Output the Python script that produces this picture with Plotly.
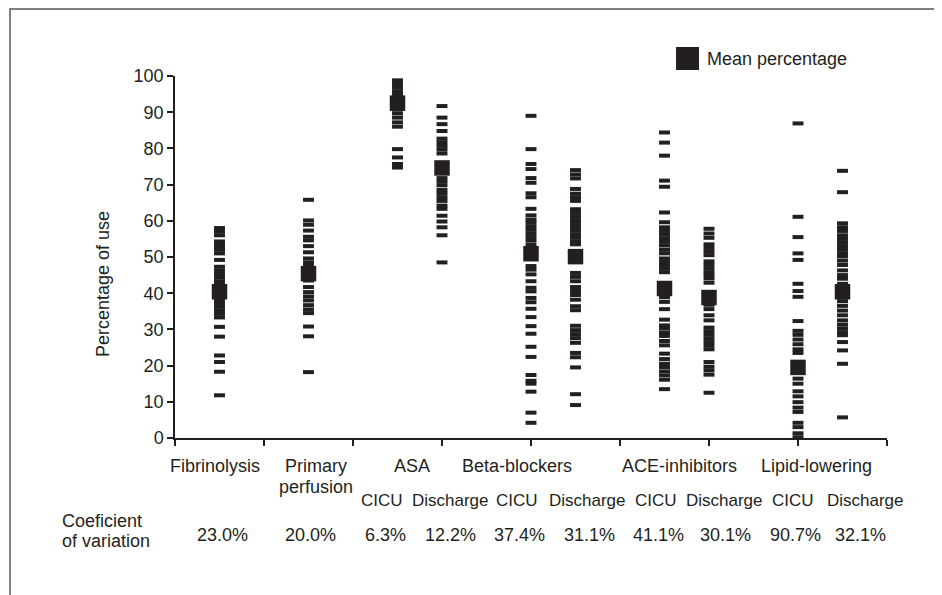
import plotly.graph_objects as go

# ---------------- data ----------------
groups = ["Fibrinolysis", "Primary<br>perfusion", "ASA", "Beta-blockers", "ACE-inhibitors", "Lipid-lowering"]
sub_labels = ["CICU", "Discharge", "CICU", "Discharge", "CICU", "Discharge", "CICU", "Discharge"]
cv_labels = ["23.0%", "20.0%", "6.3%", "12.2%", "37.4%", "31.1%", "41.1%", "30.1%", "90.7%", "32.1%"]

fibrinolysis = [58, 57, 56, 54.3, 53.5, 52.7, 52, 51, 49.2, 47.3, 46.3, 45.3, 44.3, 43.3, 42.5,
                38.3, 37.3, 36.3, 35.3, 34.3, 33.3, 30.7, 28, 22.8, 21, 18.3, 11.8]
primary_perfusion = [65.8, 60.1, 58.9, 57.3, 55.6, 54.6, 53.0, 51.3, 49.6, 48.5, 47.5, 44.5, 43.5,
                     41.7, 40.3, 39.1, 38.0, 36.7, 35.5, 34.5, 30.8, 28.1, 18.2]
asa_cicu = [98.8, 97.8, 96.8, 95.8, 94.8, 90.8, 89.7, 88.5, 87.2, 86.0, 79.8, 77.5, 75.7, 74.7]
asa_discharge = [91.7, 88.5, 86.7, 84.8, 82.7, 81.7, 80.7, 79.7, 78.6, 71.8, 70.8, 69.8, 68.5, 67.5,
                 66.5, 65.5, 64.2, 63.3, 61.4, 59.8, 58.2, 56.0, 48.5]
bb_cicu = [89.0, 79.8, 75.7, 74.3, 71.8, 70.5, 67.6, 66.5, 63.3, 61.5, 60.3, 59.5, 58.5, 57.5, 56.5,
           55.5, 54.5, 53.3, 47.5, 46.5, 45.2, 43.3, 41.5, 40.5, 38.7, 37.5, 35.7, 33.4, 30.9, 28.8,
           25.2, 22.4, 17.4, 15.8, 15.0, 12.8, 7.0, 4.2]
bb_discharge = [74.0, 72.8, 71.7, 68.8, 67.5, 66.5, 65.5, 63.2, 62.2, 61.2, 60.2, 59.3, 58.3, 57.3,
                56.3, 55.3, 54.3, 53.5, 45.6, 44.5, 43.3, 41.7, 40.6, 39.5, 38.2, 36.4, 35.3, 31.0,
                29.8, 28.7, 27.6, 26.3, 23.5, 22.3, 19.5, 12.1, 9.1]
ace_cicu = [84.4, 81.6, 78.0, 71.1, 69.4, 62.3, 59.6, 58.2, 57.2, 56.2, 55.2, 54.2, 53.2, 52.0, 51.0,
            49.6, 48.6, 47.6, 46.8, 45.8, 38.9, 37.6, 35.6, 32.7, 31.1, 30.2, 29.0, 28.2, 26.8, 25.6,
            23.3, 21.8, 20.5, 19.6, 18.4, 17.3, 16.1, 13.5]
ace_discharge = [57.8, 56.5, 55.3, 53.5, 52.5, 51.5, 50.5, 48.8, 47.8, 46.8, 45.8, 45.0, 44.1, 42.9,
                 36.8, 35.6, 33.9, 32.5, 30.5, 29.5, 28.5, 27.5, 26.5, 25.5, 24.5, 21.0, 19.7, 18.7,
                 17.5, 12.5]
lipid_cicu = [86.9, 61.1, 55.5, 51.0, 49.2, 42.6, 40.6, 39.0, 32.3, 29.6, 28.5, 27.2, 25.9, 24.5,
              23.5, 16.4, 15.0, 12.9, 11.5, 9.9, 8.4, 7.2, 4.2, 3.0, 1.3, 0.2]
lipid_discharge = [73.8, 67.9, 59.3, 58.2, 57.2, 56.0, 55.0, 54.0, 53.0, 52.0, 51.0, 50.2, 49.0, 47.8,
                   46.3, 45.0, 44.0, 42.6, 37.8, 36.5, 35.2, 33.9, 32.5, 31.3, 30.2, 29.2, 28.4, 26.5,
                   24.2, 20.5, 5.7]

series = [fibrinolysis, primary_perfusion, asa_cicu, asa_discharge, bb_cicu, bb_discharge,
          ace_cicu, ace_discharge, lipid_cicu, lipid_discharge]
means = [40.4, 45.4, 92.5, 74.6, 50.9, 50.1, 41.3, 38.8, 19.5, 40.4]

# ---------------- layout positions (axis units) ----------------
col_x = [0.5, 1.5, 2.5, 3.0, 4.0, 4.5, 5.5, 6.0, 7.0, 7.5]
group_x = [0.45, 1.58, 2.66, 3.84, 5.67, 7.21]
sub_x = [2.33, 3.10, 3.84, 4.64, 5.40, 6.17, 6.94, 7.76]
cv_x = [0.53, 1.52, 2.36, 3.09, 3.87, 4.66, 5.43, 6.18, 6.97, 7.70]

INK = "#231f20"
FONT = "Liberation Sans, Arial, Helvetica, sans-serif"
FS = 18

dash_x, dash_y = [], []
for xpos, vals in zip(col_x, series):
    dash_x += [xpos] * len(vals)
    dash_y += vals

fig = go.Figure()
fig.add_trace(go.Scatter(
    x=dash_x, y=dash_y, mode="markers", showlegend=False, cliponaxis=False,
    marker=dict(symbol="line-ew", size=7.8, line=dict(color=INK, width=4)),
    hoverinfo="y"))
fig.add_trace(go.Scatter(
    x=col_x, y=means, mode="markers", name="Mean percentage", showlegend=False, cliponaxis=False,
    marker=dict(symbol="square", size=15.5, color=INK, line=dict(width=0))))

ann = []
for gx, g in zip(group_x, groups):
    if "<br>" in g:
        a, b = g.split("<br>")
        ann.append(dict(x=gx, y=0, yshift=-28, text=a))
        ann.append(dict(x=gx, y=0, yshift=-49, text=b))
    else:
        ann.append(dict(x=gx, y=0, yshift=-28, text=g))
for sx, s in zip(sub_x, sub_labels):
    ann.append(dict(x=sx, y=0, yshift=-62, text=s, font=dict(size=17)))
for cx, c in zip(cv_x, cv_labels):
    ann.append(dict(x=cx, y=0, yshift=-97, text=c))
# texts placed outside the plotting area use paper coordinates
ann.append(dict(xref="paper", yref="paper", x=-0.1615, y=-0.2293, text="Coeficient", xanchor="left"))
ann.append(dict(xref="paper", yref="paper", x=-0.1615, y=-0.2845, text="of variation", xanchor="left"))
ann.append(dict(xref="paper", yref="paper", x=-0.1011, y=0.4254, text="Percentage of use", textangle=-90))
ann.append(dict(xref="paper", yref="paper", x=0.7444, y=1.047, text="Mean percentage", xanchor="left"))

annotations = []
for a in ann:
    base = dict(xref="x", yref="y", showarrow=False, xanchor="center", yanchor="middle",
                font=dict(family=FONT, size=FS, color=INK))
    f = a.pop("font", None)
    base.update(a)
    if f:
        base["font"] = dict(family=FONT, color=INK, **f)
    annotations.append(base)

shapes = [
    # legend swatch
    dict(type="rect", xref="paper", yref="paper", x0=0.7037, x1=0.7360, y0=1.0166, y1=1.0801,
         fillcolor=INK, line=dict(width=0)),
    # outer frame
    dict(type="rect", xref="paper", yref="paper", x0=-0.2317, x1=1.0730, y0=-0.48, y1=1.185,
         line=dict(color="#555555", width=1.5), fillcolor="rgba(0,0,0,0)"),
]

fig.update_layout(
    width=934, height=587,
    margin=dict(l=167, r=55, t=68, b=157),
    paper_bgcolor="white", plot_bgcolor="white",
    font=dict(family=FONT, size=FS, color=INK),
    annotations=annotations, shapes=shapes,
    xaxis=dict(range=[0, 8], tickmode="array", tickvals=list(range(9)), ticktext=[""] * 9,
               showgrid=False, zeroline=False, showline=True, linecolor=INK, linewidth=1.5,
               ticks="outside", ticklen=6, tickwidth=1.5, tickcolor=INK, fixedrange=True),
    yaxis=dict(range=[0, 100], tickmode="linear", tick0=0, dtick=10,
               showgrid=False, zeroline=False, showline=True, linecolor=INK, linewidth=1.5,
               ticks="outside", ticklen=6, tickwidth=1.5, tickcolor=INK,
               tickfont=dict(family=FONT, size=FS, color=INK), fixedrange=True),
    showlegend=False,
)

fig.write_html("out.html")
